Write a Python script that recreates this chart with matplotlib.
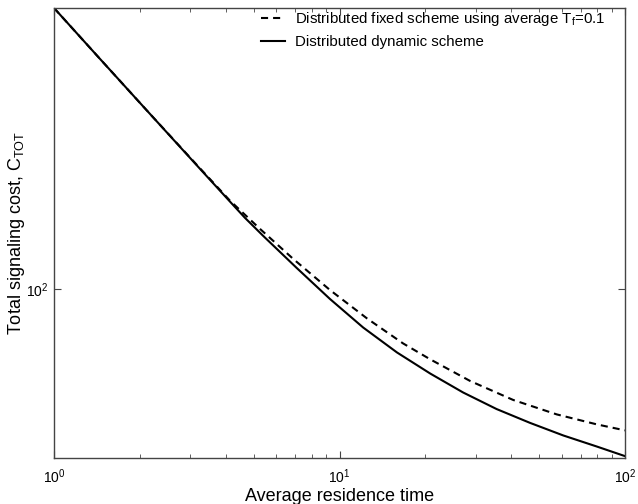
import numpy as np
import matplotlib.pyplot as plt
from matplotlib.ticker import LogLocator, NullLocator, NullFormatter

plt.rcParams['font.family'] = ['Liberation Sans', 'DejaVu Sans']
plt.rcParams['mathtext.fontset'] = 'custom'
plt.rcParams['mathtext.rm'] = 'Liberation Sans'
plt.rcParams['mathtext.it'] = 'Liberation Sans'

# values (log-log)
t_fixed = [1.0, 1.45, 2.17, 3.25, 4.13, 5.27, 6.89, 9.26, 12.5, 16.7, 20.8,
           28.7, 40.6, 57.7, 79.6, 100.0]
c_fixed = [782, 538.4, 359.9, 241.5, 191.0, 155.1, 124.5, 99.2, 80.5, 67.1,
           59.7, 50.95, 44.35, 39.9, 37.1, 35.5]
t_dyn = [1.0, 1.45, 2.17, 3.25, 4.13, 4.67, 5.41, 7.08, 9.26, 12.1, 15.9,
         20.8, 27.1, 35.5, 46.5, 60.8, 79.6, 100.0]
c_dyn = [782, 538.4, 359.9, 240.6, 189.7, 168.1, 147.3, 116.6, 92.9, 75.4,
         62.8, 53.8, 46.85, 41.5, 37.5, 34.2, 31.55, 29.4]

fig = plt.figure(figsize=(6.38, 5.04), dpi=100)
ax = fig.add_axes([54/638, 1-458/504, (625-54)/638, (458-8)/504])

ax.loglog(t_fixed, c_fixed, color='black', lw=1.5, linestyle=(0, (3.4, 2.4)),
          label='Distributed fixed scheme using average T$_f$=0.1')
ax.loglog(t_dyn, c_dyn, color='black', lw=1.5, label='Distributed dynamic scheme')

ax.set_xlim(1, 100)
ax.set_ylim(29.0, 782)
ax.yaxis.set_major_locator(LogLocator(base=10))
ax.yaxis.set_minor_locator(NullLocator())
ax.yaxis.set_minor_formatter(NullFormatter())
ax.xaxis.set_minor_locator(LogLocator(base=10, subs=np.arange(2, 10)))
ax.xaxis.set_minor_formatter(NullFormatter())

ax.tick_params(which='both', direction='in', top=True, right=True,
               labelsize=10, color='#444444')
ax.tick_params(axis='x', pad=7)
ax.tick_params(axis='y', pad=4)
ax.tick_params(which='major', length=5)
ax.tick_params(which='minor', length=3)
for s in ax.spines.values():
    s.set_color('#444444')
    s.set_linewidth(1.0)

ax.set_xlabel('Average residence time', fontsize=13, labelpad=1)
ax.set_ylabel('Total signaling cost, C$_{TOT}$', fontsize=13)
ax.yaxis.set_label_coords(-0.047, 0.5)

ax.legend(loc='upper right', bbox_to_anchor=(0.9755, 1.009), frameon=False,
          fontsize=10.8, handlelength=1.6, handletextpad=0.67,
          borderaxespad=0, labelspacing=0.5)

fig.savefig('out.png', dpi=100)
